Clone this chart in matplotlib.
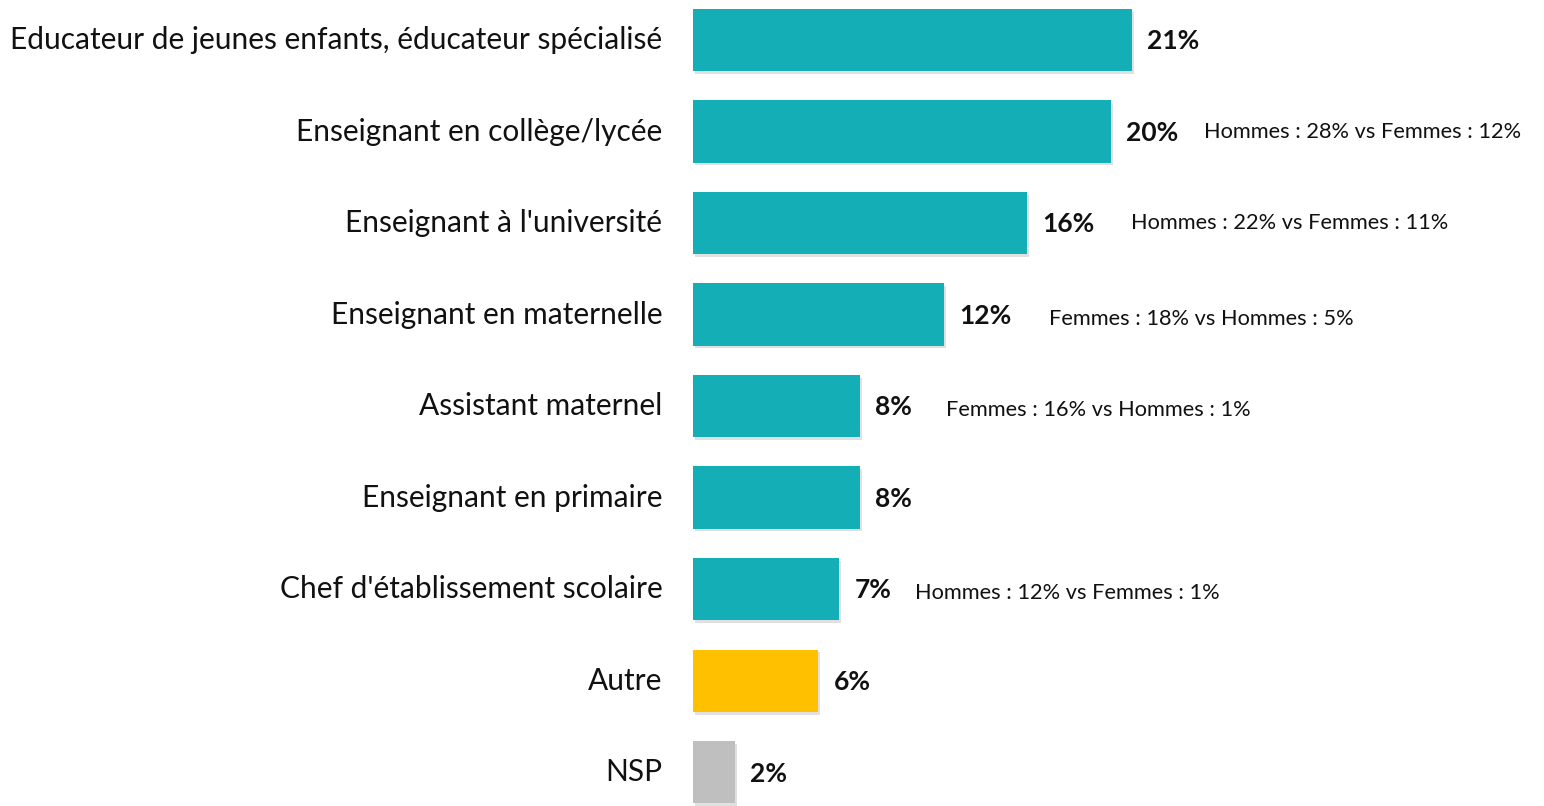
"""Horizontal bar chart of professions cited, with gender gaps noted."""

import matplotlib.pyplot as plt
import matplotlib.patheffects as pe
import numpy as np

CATEGORIES = [
    "Educateur de jeunes enfants, éducateur spécialisé",
    "Enseignant en collège/lycée",
    "Enseignant à l'université",
    "Enseignant en maternelle",
    "Assistant maternel",
    "Enseignant en primaire",
    "Chef d'établissement scolaire",
    "Autre",
    "NSP",
]
VALUES = [21, 20, 16, 12, 8, 8, 7, 6, 2]
NOTES = [
    "",
    "Hommes : 28% vs Femmes : 12%",
    "Hommes : 22% vs Femmes : 11%",
    "Femmes : 18% vs Hommes : 5%",
    "Femmes : 16% vs Hommes : 1%",
    "",
    "Hommes : 12% vs Femmes : 1%",
    "",
    "",
]

TEAL = "#14AFB6"
COLORS = [TEAL] * 7 + ["#FFC000", "#BFBFBF"]
# horizontal gap (points) between the value label and the note
NOTE_GAP = {1: 18, 2: 26, 3: 27, 4: 24, 6: 17}

plt.rcParams["font.family"] = ["Lato", "DejaVu Sans"]

fig = plt.figure(figsize=(15.44, 8.06), dpi=100)
ax = fig.add_axes([693 / 1544, 0, 1 - 693 / 1544, 1])

y = np.arange(len(CATEGORIES))
bars = ax.barh(y, VALUES, height=0.68, color=COLORS, zorder=2)
for b in bars:
    b.set_path_effects([
        pe.SimplePatchShadow(offset=(1.5, -2), shadow_rgbFace="#000000", alpha=0.12),
        pe.Normal(),
    ])

ax.set_xlim(0, (1544 - 693) / 20.9)
ax.set_ylim(8.37, -0.437)
ax.axis("off")

for i, (cat, val, note) in enumerate(zip(CATEGORIES, VALUES, NOTES)):
    ax.annotate(cat, (0, i), xytext=(-22, 0), textcoords="offset points",
                ha="right", va="center", fontsize=21.5, color="#111111")
    lab = ax.annotate(f"{val}%", (val, i), xytext=(11, -1), textcoords="offset points",
                      ha="left", va="center", fontsize=19, fontweight="bold", color="#111111")
    if note:
        ax.annotate(note, (1, 0.5), xycoords=lab, xytext=(NOTE_GAP.get(i, 20), 1 if i < 3 else -2),
                    textcoords="offset points", ha="left", va="center",
                    fontsize=15.7, color="#111111")

fig.savefig("out.png", dpi=100, facecolor="white")
